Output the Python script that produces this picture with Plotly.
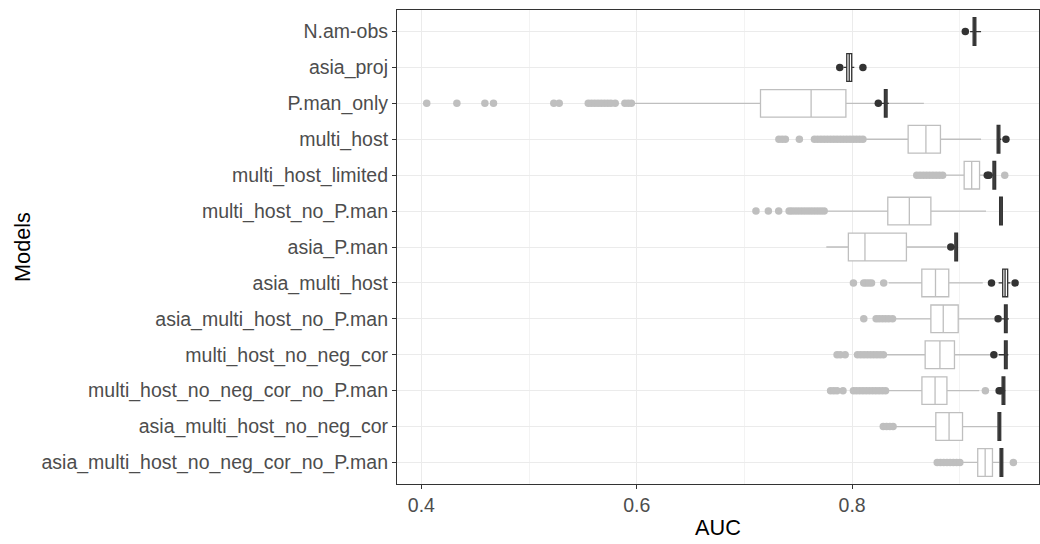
import plotly.graph_objects as go

# Category order, top to bottom
models = ["N.am-obs", "asia_proj", "P.man_only", "multi_host", "multi_host_limited",
          "multi_host_no_P.man", "asia_P.man", "asia_multi_host", "asia_multi_host_no_P.man",
          "multi_host_no_neg_cor", "multi_host_no_neg_cor_no_P.man",
          "asia_multi_host_no_neg_cor", "asia_multi_host_no_neg_cor_no_P.man"]

# Null-distribution (grey) boxes: models that have one
null_models = models[2:]
null_q1 = [0.7149, 0.852, 0.904, 0.8331, 0.7965, 0.8647, 0.8731, 0.8678, 0.8648, 0.8777, 0.9166]
null_med = [0.7619, 0.8685, 0.911, 0.8531, 0.8119, 0.8774, 0.8846, 0.8815, 0.877, 0.890, 0.9235]
null_q3 = [0.7942, 0.882, 0.9183, 0.8731, 0.8504, 0.8897, 0.8985, 0.895, 0.888, 0.9025, 0.9303]
null_lo = [0.597, 0.8127, 0.8858, 0.776, 0.776, 0.8339, 0.8397, 0.832, 0.833, 0.8405, 0.9013]
null_hi = [0.8666, 0.9197, 0.926, 0.9243, 0.8878, 0.9213, 0.932, 0.930, 0.918, 0.935, 0.9365]
null_outliers = {
    "P.man_only": [0.405, 0.433, 0.459, 0.467, 0.523, 0.528, 0.555, 0.558, 0.561, 0.564,
                   0.567, 0.570, 0.573, 0.576, 0.580, 0.589, 0.592, 0.595],
    "multi_host": [0.732, 0.735, 0.738, 0.751, 0.765, 0.768, 0.771, 0.774, 0.777, 0.780,
                   0.783, 0.786, 0.789, 0.792, 0.795, 0.798, 0.801, 0.804, 0.807, 0.810],
    "multi_host_limited": [0.860, 0.863, 0.866, 0.869, 0.872, 0.875, 0.878, 0.881, 0.884, 0.9417],
    "multi_host_no_P.man": [0.7107, 0.7222, 0.7318, 0.7415, 0.744, 0.747, 0.750, 0.753,
                            0.756, 0.759, 0.762, 0.765, 0.768, 0.771, 0.774],
    "asia_P.man": [],
    "asia_multi_host": [0.8012, 0.8108, 0.813, 0.8155, 0.818, 0.8293],
    "asia_multi_host_no_P.man": [0.8108, 0.8223, 0.825, 0.828, 0.831, 0.834, 0.8375],
    "multi_host_no_neg_cor": [0.786, 0.789, 0.7935, 0.805, 0.808, 0.811, 0.814, 0.817,
                              0.820, 0.823, 0.826, 0.829],
    "multi_host_no_neg_cor_no_P.man": [0.780, 0.783, 0.786, 0.7915, 0.8012, 0.804, 0.807,
                                       0.810, 0.813, 0.816, 0.819, 0.822, 0.825, 0.828,
                                       0.831, 0.9237],
    "asia_multi_host_no_neg_cor": [0.8289, 0.832, 0.835, 0.838],
    "asia_multi_host_no_neg_cor_no_P.man": [0.879, 0.882, 0.885, 0.888, 0.891, 0.894,
                                            0.897, 0.900, 0.9497],
}

# Observed (dark) boxes: all models
obs_q1 = [0.91235, 0.7950, 0.82995, 0.93465, 0.93075, 0.93695, 0.89535, 0.9398, 0.94145, 0.94145, 0.93925, 0.93545, 0.93735]
obs_med = [0.9136, 0.7973, 0.8312, 0.9359, 0.9320, 0.9382, 0.8966, 0.9420, 0.9427, 0.9427, 0.9405, 0.9367, 0.9386]
obs_q3 = [0.91485, 0.7996, 0.83245, 0.93715, 0.93325, 0.93945, 0.89785, 0.9444, 0.94395, 0.94395, 0.94175, 0.93795, 0.93985]
obs_lo = [0.9095, 0.7920, 0.8265, 0.9340, 0.9285, 0.9369, 0.8935, 0.9360, 0.9385, 0.9360, 0.9385, 0.9354, 0.9373]
obs_hi = [0.9197, 0.8020, 0.8340, 0.9385, 0.9335, 0.9395, 0.8979, 0.9470, 0.9455, 0.9450, 0.9425, 0.9380, 0.9399]
obs_outliers = {
    "N.am-obs": [0.9051],
    "asia_proj": [0.7885, 0.810],
    "P.man_only": [0.8243],
    "multi_host": [0.9428],
    "multi_host_limited": [0.9255, 0.927],
    "asia_P.man": [0.8916],
    "asia_multi_host": [0.9294, 0.9513],
    "asia_multi_host_no_P.man": [0.9355],
    "multi_host_no_neg_cor": [0.9316],
    "multi_host_no_neg_cor_no_P.man": [0.9365, 0.938],
}

x_ticks = [0.4, 0.6, 0.8]
x_tick_text = ["0.4", "0.6", "0.8"]

GREY = "#bfbfbf"
DARK = "#333333"
BOXW = 0.77

fig = go.Figure()

fig.add_trace(go.Box(
    y=null_models, q1=null_q1, median=null_med, q3=null_q3,
    lowerfence=null_lo, upperfence=null_hi, orientation="h",
    line=dict(color=GREY, width=1.3), fillcolor="white", width=BOXW,
    whiskerwidth=0, boxpoints=False, showlegend=False, hoverinfo="skip"))

gx, gy = [], []
for m, vals in null_outliers.items():
    gx += vals
    gy += [m] * len(vals)
fig.add_trace(go.Scatter(x=gx, y=gy, mode="markers",
                         marker=dict(color=GREY, size=7.5), showlegend=False, hoverinfo="skip"))

fig.add_trace(go.Box(
    y=models, q1=obs_q1, median=obs_med, q3=obs_q3,
    lowerfence=obs_lo, upperfence=obs_hi, orientation="h",
    line=dict(color=DARK, width=1.3), fillcolor="white", width=BOXW,
    whiskerwidth=0, boxpoints=False, showlegend=False, hoverinfo="skip"))

dx, dy = [], []
for m, vals in obs_outliers.items():
    dx += vals
    dy += [m] * len(vals)
fig.add_trace(go.Scatter(x=dx, y=dy, mode="markers",
                         marker=dict(color=DARK, size=7.5), showlegend=False, hoverinfo="skip"))

FONT = "Liberation Sans, Arial, sans-serif"

fig.update_layout(
    width=1040, height=544,
    margin=dict(l=397, r=1, t=10, b=60),
    paper_bgcolor="white", plot_bgcolor="white",
    boxmode="overlay",
    font=dict(family=FONT, size=19.5, color="#4d4d4d"),
    xaxis=dict(
        range=[0.3774, 0.9735],
        tickvals=x_ticks, ticktext=x_tick_text,
        ticks="outside", ticklen=4, tickcolor=DARK, tickwidth=1,
        tickfont=dict(size=19.5, color="#4d4d4d"),
        showgrid=True, gridcolor="#ebebeb", gridwidth=1.1,
        minor=dict(dtick=0.1, tick0=0.3, showgrid=True, gridcolor="#f3f3f3", gridwidth=0.6, ticks=""),
        showline=True, linecolor=DARK, linewidth=1.1, mirror=True,
        zeroline=False, automargin=False,
        title=dict(text="AUC", font=dict(size=21.7, color="black"), standoff=4),
    ),
    yaxis=dict(
        type="category", categoryorder="array", categoryarray=models,
        range=[len(models) - 0.4, -0.6],
        ticks="outside", ticklen=4, tickcolor=DARK, tickwidth=1,
        tickfont=dict(size=19.5, color="#4d4d4d"),
        showgrid=True, gridcolor="#ebebeb", gridwidth=1.1,
        showline=True, linecolor=DARK, linewidth=1.1, mirror=True,
        zeroline=False, automargin=False,
        title=dict(text="Models", font=dict(size=21.7, color="black"), standoff=4),
    ),
)

fig.write_html("out.html")
